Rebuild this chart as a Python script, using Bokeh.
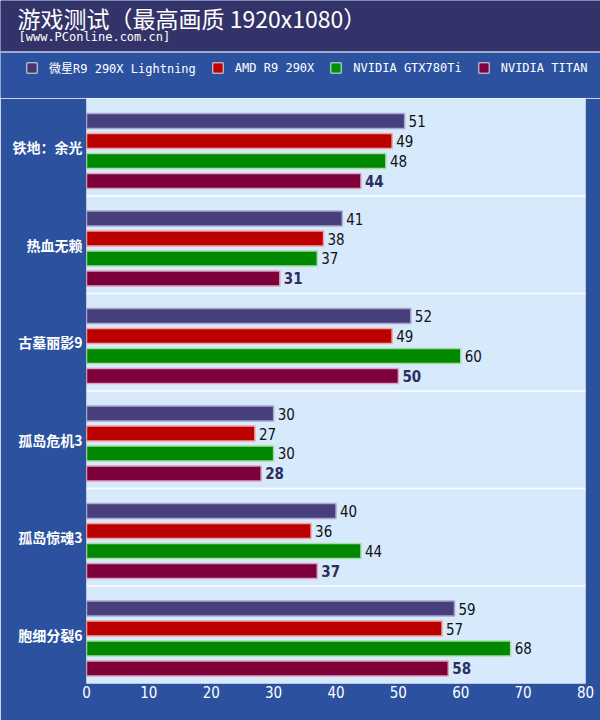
from bokeh.plotting import figure
from bokeh.models import (ColumnDataSource, FactorRange, Range1d, Span, Label,
                          BoxAnnotation, Legend, LegendItem)
from bokeh.transform import dodge
from bokeh.core.properties import value
from bokeh.layouts import column
from bokeh.embed import file_html
from bokeh.resources import INLINE

# ---------------- data ----------------
games = ["铁地：余光", "热血无赖", "古墓丽影9", "孤岛危机3", "孤岛惊魂3", "胞细分裂6"]
series_names = ["微星R9 290X Lightning", "AMD R9 290X", "NVIDIA GTX780Ti", "NVIDIA TITAN"]
msi = [51, 41, 52, 30, 40, 59]
amd = [49, 38, 49, 27, 36, 57]
gtx = [48, 37, 60, 30, 44, 68]
titan = [44, 31, 50, 28, 37, 58]
x_ticks = [0, 10, 20, 30, 40, 50, 60, 70, 80]
title_text = "游戏测试（最高画质 1920x1080）"
subtitle_text = "[www.PConline.com.cn]"

# ---------------- styles ----------------
HEADER_BG = "#333369"
MAIN_BG = "#2b519f"
PLOT_BG = "#d7eafc"
LINE_C = "#c4cce4"
bar_colors = ["#463f7c", "#bb0000", "#008800", "#7d003a"]
bar_edges = ["#aaa7c9", "#f0a4a4", "#a6dca6", "#dba3bf"]
swatch_colors = ["#3f3a6e", "#c00000", "#009000", "#800040"]
offsets = [0.269, 0.064, -0.141, -0.346]
BAR_H = 0.154
CJK = "'Noto Sans CJK SC', sans-serif"
MONO = "'DejaVu Sans Mono', 'Noto Sans CJK SC', monospace"
NARROW = "'Liberation Sans Narrow', 'DejaVu Sans Condensed', 'Liberation Sans', sans-serif"

W, H = 600, 720
HEAD_H = 98
NAN = float("nan")

# ---------------- header (title band + legend) ----------------
header = figure(width=W, height=HEAD_H, output_backend="svg", toolbar_location=None,
                x_axis_type=None, y_axis_type=None, min_border=0,
                x_range=Range1d(0, W), y_range=Range1d(0, HEAD_H))
header.frame_align = False
header.background_fill_color = MAIN_BG
header.border_fill_color = MAIN_BG
header.outline_line_color = None
header.xgrid.visible = False
header.ygrid.visible = False
header.add_layout(BoxAnnotation(bottom=HEAD_H - 51, top=HEAD_H, left=0, right=W,
                                fill_color=HEADER_BG, fill_alpha=1, line_color=None))
header.add_layout(Span(location=HEAD_H - 51.5, dimension="width",
                       line_color=LINE_C, line_width=1.5))
header.add_layout(Label(x=17, y=HEAD_H, text=title_text, text_baseline="top",
                        text_color="white", text_font=CJK, text_font_size="23px"))
header.add_layout(Label(x=18, y=HEAD_H - 29, text=subtitle_text, text_baseline="top",
                        text_color="white", text_font=MONO, text_font_size="12px"))

items = []
for k in range(4):
    r = header.quad(left=[NAN], right=[NAN], top=[NAN], bottom=[NAN],
                    fill_color=swatch_colors[k], line_color="#e4e4f0", line_width=1)
    items.append(LegendItem(label=series_names[k], renderers=[r]))
legend = Legend(items=items, orientation="horizontal", location=(25, 22),
                glyph_width=13, glyph_height=13, label_height=13,
                label_standoff=11, spacing=15, padding=0, margin=0,
                background_fill_alpha=0, border_line_color=None,
                label_text_color="white", label_text_font=MONO,
                label_text_font_size="12px")
header.add_layout(legend)

# ---------------- main chart ----------------
src = ColumnDataSource(dict(
    game=games,
    s0=msi, s1=amd, s2=gtx, s3=titan,
    t0=[str(v) for v in msi], t1=[str(v) for v in amd],
    t2=[str(v) for v in gtx], t3=[str(v) for v in titan],
))

p = figure(width=W, height=H - HEAD_H, output_backend="svg", toolbar_location=None,
           y_range=FactorRange(*games[::-1], range_padding=0),
           x_range=Range1d(0, 80),
           min_border_left=86, min_border_right=15,
           min_border_top=0, min_border_bottom=37)
p.frame_align = False
p.background_fill_color = PLOT_BG
p.border_fill_color = MAIN_BG
p.outline_line_color = None
p.xgrid.visible = False
p.ygrid.visible = False

for i in range(1, len(games)):
    p.add_layout(Span(location=i, dimension="width", line_color="white", line_width=1.5))

for k in range(4):
    yk = dodge("game", offsets[k], range=p.y_range)
    p.hbar(y=yk, left=0, right=f"s{k}", height=BAR_H, source=src,
           fill_color=bar_colors[k], line_color=bar_edges[k], line_width=1.5)
    last = (k == 3)
    p.text(x=f"s{k}", y=yk, text=f"t{k}", source=src, x_offset=4,
           text_baseline="middle", text_align="left",
           text_font=value(NARROW), text_font_size="15px",
           text_font_style="bold" if last else "normal",
           text_color="#2e2e5e" if last else "#111111")

# axes
p.xaxis.ticker = x_ticks
p.xaxis.axis_line_color = None
p.xaxis.major_tick_line_color = None
p.xaxis.minor_tick_line_color = None
p.xaxis.major_tick_out = 0
p.xaxis.major_label_standoff = 2
p.xaxis.major_label_text_color = "white"
p.xaxis.major_label_text_font = NARROW
p.xaxis.major_label_text_font_size = "15px"

p.yaxis.axis_line_color = None
p.yaxis.major_tick_line_color = None
p.yaxis.major_tick_out = 0
p.yaxis.major_label_standoff = 4
p.yaxis.major_label_text_color = "white"
p.yaxis.major_label_text_font = CJK
p.yaxis.major_label_text_font_size = "14px"
p.yaxis.major_label_text_font_style = "bold"

layout = column(header, p, spacing=0)
open("out.html", "w").write(file_html(layout, INLINE))
